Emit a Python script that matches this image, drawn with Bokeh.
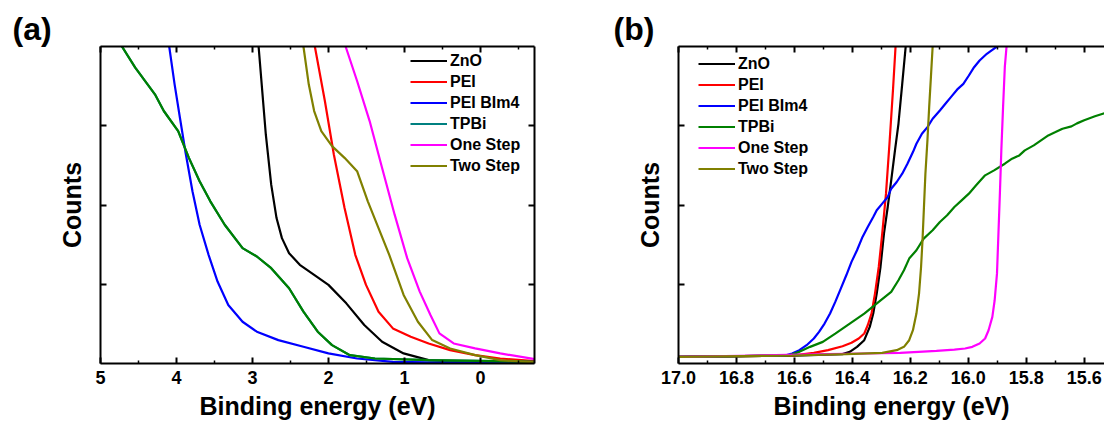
from bokeh.plotting import figure
from bokeh.layouts import row
from bokeh.models import (Range1d, FixedTicker, LinearAxis, Legend,
                          LegendItem, PrintfTickFormatter)
from bokeh.embed import file_html
from bokeh.resources import INLINE

FONT = "Liberation Sans"

SERIES = ["ZnO", "PEI", "PEI BIm4", "TPBi", "One Step", "Two Step"]
COLORS = ["#000000", "#FF0000", "#0000FF", "#008000", "#FF00FF", "#808000"]
LEGEND_COLORS_A = ["#000000", "#FF0000", "#0000FF", "#008080", "#FF00FF", "#808000"]

# ---------------- panel (a) : valence region ----------------
A_ZNO_X = [2.937, 2.92, 2.825, 2.754, 2.684, 2.613, 2.519, 2.378, 2.189, 2.001, 1.766, 1.530, 1.295, 1.012, 0.683, 0.212, -0.716]
A_ZNO_Y = [4.2, 4.0, 2.89, 2.257, 1.835, 1.582, 1.392, 1.245, 1.118, 0.992, 0.759, 0.485, 0.274, 0.127, 0.042, 0.013, 0.005]

A_PEI_X = [2.19, 2.180, 2.048, 1.930, 1.789, 1.648, 1.507, 1.342, 1.153, 0.918, 0.683, 0.400, 0.071, -0.259, -0.716]
A_PEI_Y = [4.15, 4.0, 3.312, 2.637, 1.962, 1.371, 0.992, 0.654, 0.443, 0.338, 0.253, 0.169, 0.105, 0.063, 0.03]

A_BIM_X = [4.11, 4.096, 4.025, 3.955, 3.884, 3.790, 3.696, 3.578, 3.460, 3.319, 3.131, 2.943, 2.660, 2.330, 2.001, 1.624, 1.153, 0.212, -0.716]
A_BIM_Y = [4.1, 4.0, 3.523, 3.101, 2.679, 2.173, 1.751, 1.371, 1.034, 0.738, 0.527, 0.401, 0.295, 0.211, 0.127, 0.063, 0.021, 0.008, 0.008]

A_TPBI_X = [4.78, 4.718, 4.543, 4.284, 4.167, 3.978, 3.837, 3.696, 3.555, 3.366, 3.131, 2.943, 2.754, 2.519, 2.330, 2.142, 1.954, 1.719, 1.389, 0.683, -0.716]
A_TPBI_Y = [4.1, 4.0, 3.734, 3.397, 3.186, 2.932, 2.595, 2.300, 2.046, 1.751, 1.456, 1.350, 1.203, 0.949, 0.654, 0.401, 0.232, 0.105, 0.063, 0.042, 0.021]

A_ONE_X = [1.80, 1.775, 1.624, 1.459, 1.295, 1.130, 0.965, 0.800, 0.659, 0.541, 0.353, 0.071, -0.259, -0.716]
A_ONE_Y = [4.15, 4.0, 3.565, 3.059, 2.468, 1.878, 1.329, 0.907, 0.612, 0.380, 0.253, 0.190, 0.127, 0.055]

A_TWO_X = [2.345, 2.330, 2.260, 2.189, 2.095, 1.954, 1.789, 1.624, 1.483, 1.342, 1.201, 1.012, 0.824, 0.636, 0.400, 0.071, -0.259, -0.716]
A_TWO_Y = [4.1, 4.0, 3.523, 3.186, 2.932, 2.743, 2.595, 2.426, 2.046, 1.709, 1.371, 0.865, 0.527, 0.295, 0.190, 0.105, 0.042, 0.013]

A_TICKS = [5, 4, 3, 2, 1, 0]
A_MINOR = [4.5, 3.5, 2.5, 1.5, 0.5, -0.5]

# ---------------- panel (b) : secondary-electron cutoff ----------------
B_ZNO_X = [17.0, 16.60, 16.434, 16.409, 16.384, 16.359, 16.340, 16.328, 16.316, 16.303, 16.291, 16.278, 16.266, 16.253, 16.241, 16.228, 16.216, 16.212]
B_ZNO_Y = [0.084, 0.100, 0.118, 0.147, 0.210, 0.294, 0.462, 0.630, 0.882, 1.218, 1.639, 1.975, 2.311, 2.689, 3.025, 3.529, 4.0, 4.15]

B_PEI_X = [17.0, 16.608, 16.533, 16.484, 16.434, 16.403, 16.378, 16.359, 16.347, 16.334, 16.322, 16.309, 16.297, 16.284, 16.272, 16.260, 16.251, 16.248]
B_PEI_Y = [0.084, 0.101, 0.134, 0.168, 0.218, 0.261, 0.315, 0.378, 0.483, 0.630, 0.882, 1.218, 1.639, 2.143, 2.773, 3.445, 4.0, 4.15]

B_BIM_X = [17.0, 16.633, 16.608, 16.583, 16.558, 16.533, 16.515, 16.496, 16.477, 16.459, 16.440, 16.421, 16.403, 16.384, 16.365, 16.347, 16.328, 16.316, 16.297, 16.278, 16.266, 16.247, 16.228, 16.210, 16.191, 16.179, 16.160, 16.141, 16.123, 16.098, 16.079, 16.060, 16.036, 16.017, 15.998, 15.980, 15.961, 15.936, 15.917, 15.901, 15.890]
B_BIM_Y = [0.084, 0.101, 0.126, 0.168, 0.231, 0.315, 0.399, 0.504, 0.630, 0.777, 0.945, 1.113, 1.282, 1.429, 1.597, 1.723, 1.849, 1.933, 2.017, 2.101, 2.206, 2.290, 2.395, 2.521, 2.668, 2.773, 2.899, 2.983, 3.088, 3.193, 3.277, 3.361, 3.466, 3.529, 3.634, 3.739, 3.824, 3.908, 3.958, 4.0, 4.06]

B_TPBI_X = [17.0, 16.620, 16.583, 16.546, 16.502, 16.459, 16.409, 16.359, 16.309, 16.266, 16.241, 16.222, 16.204, 16.179, 16.154, 16.123, 16.098, 16.073, 16.048, 16.023, 15.998, 15.973, 15.942, 15.911, 15.874, 15.849, 15.824, 15.805, 15.774, 15.749, 15.724, 15.699, 15.675, 15.644, 15.625, 15.600, 15.563, 15.528, 15.515]
B_TPBI_Y = [0.084, 0.101, 0.147, 0.210, 0.273, 0.378, 0.504, 0.630, 0.777, 0.903, 1.050, 1.176, 1.324, 1.429, 1.576, 1.681, 1.786, 1.870, 1.975, 2.059, 2.143, 2.248, 2.374, 2.437, 2.521, 2.584, 2.626, 2.689, 2.752, 2.815, 2.878, 2.920, 2.962, 2.992, 3.030, 3.070, 3.120, 3.160, 3.170]

B_ONE_X = [17.0, 16.732, 16.484, 16.359, 16.235, 16.172, 16.110, 16.048, 16.011, 15.986, 15.961, 15.942, 15.930, 15.917, 15.909, 15.901, 15.896, 15.891, 15.886, 15.880, 15.874, 15.868, 15.865]
B_ONE_Y = [0.084, 0.101, 0.118, 0.126, 0.134, 0.147, 0.160, 0.176, 0.189, 0.210, 0.252, 0.315, 0.420, 0.588, 0.798, 1.134, 1.639, 2.143, 2.689, 3.235, 3.739, 4.0, 4.15]

B_TWO_X = [17.0, 16.608, 16.421, 16.297, 16.247, 16.222, 16.204, 16.191, 16.179, 16.170, 16.163, 16.158, 16.153, 16.148, 16.141, 16.135, 16.129, 16.123, 16.121]
B_TWO_Y = [0.084, 0.101, 0.118, 0.134, 0.168, 0.210, 0.294, 0.420, 0.630, 0.882, 1.218, 1.555, 1.975, 2.395, 2.815, 3.235, 3.613, 4.0, 4.15]

B_TICKS = [17.0, 16.8, 16.6, 16.4, 16.2, 16.0, 15.8, 15.6]
B_MINOR = [16.9, 16.7, 16.5, 16.3, 16.1, 15.9, 15.7]

Y_TICKS = [1, 2, 3]


def style_axis(ax, ticks, minor, fmt, labels=True, label_size="18px"):
    ax.ticker = FixedTicker(ticks=ticks, minor_ticks=minor)
    ax.formatter = PrintfTickFormatter(format=fmt)
    ax.axis_line_color = "black"
    ax.axis_line_width = 2
    ax.major_tick_line_color = "black"
    ax.major_tick_line_width = 2
    ax.major_tick_in = 6
    ax.major_tick_out = 0
    ax.minor_tick_line_color = "black"
    ax.minor_tick_line_width = 1.5
    ax.minor_tick_in = 3
    ax.minor_tick_out = 0
    ax.major_label_text_font = FONT
    ax.major_label_text_font_style = "bold"
    ax.major_label_text_color = "black"
    if labels:
        ax.major_label_text_font_size = label_size
        ax.major_label_standoff = 7
    else:
        ax.major_label_text_font_size = "0px"
        ax.major_label_standoff = 0
        ax.major_label_overrides = {t: "" for t in ticks}
    ax.axis_label_text_font = FONT
    ax.axis_label_text_font_style = "bold"
    ax.axis_label_text_font_size = "25px"
    ax.axis_label_text_color = "black"


def make_panel(tag, tag_offset, xs, ys, legend_colors, x_range, ticks, minor,
               fmt, width, border_left, border_right, right_axis, legend_loc):
    p = figure(width=width, height=425, x_range=x_range, y_range=Range1d(0, 4),
               output_backend="svg", toolbar_location=None, title=tag,
               min_border_left=border_left, min_border_right=border_right,
               min_border_top=46, min_border_bottom=62)
    p.outline_line_color = None
    p.xgrid.visible = False
    p.ygrid.visible = False
    p.background_fill_color = "white"
    p.border_fill_color = "white"

    p.title.align = "left"
    p.title.offset = tag_offset
    p.title.standoff = 0
    p.title.text_font = FONT
    p.title.text_font_style = "bold"
    p.title.text_font_size = "32px"
    p.title.text_color = "black"

    style_axis(p.xaxis[0], ticks, minor, fmt, True)
    p.xaxis[0].axis_label = "Binding energy (eV)"
    p.xaxis[0].axis_label_standoff = 5
    style_axis(p.yaxis[0], Y_TICKS, [], "%d", False)
    p.yaxis[0].axis_label = "Counts"
    p.yaxis[0].axis_label_standoff = 15

    top = LinearAxis()
    style_axis(top, ticks, minor, fmt, False)
    p.add_layout(top, "above")
    if right_axis:
        rax = LinearAxis()
        style_axis(rax, Y_TICKS, [], "%d", False)
        p.add_layout(rax, "right")

    items = []
    for name, x, y, c, lc in zip(SERIES, xs, ys, COLORS, legend_colors):
        if lc != c:
            # legend swatch colour differs from the drawn curve: proxy underneath
            proxy = p.line(x, y, line_color=lc, line_width=2.2)
            p.line(x, y, line_color=c, line_width=2.2)
            items.append(LegendItem(label=name, renderers=[proxy]))
        else:
            r = p.line(x, y, line_color=c, line_width=2.2)
            items.append(LegendItem(label=name, renderers=[r]))

    leg = Legend(items=items, location=legend_loc,
                 glyph_width=37, glyph_height=21, label_height=21,
                 label_standoff=3, spacing=0, padding=0, margin=0,
                 border_line_color=None, background_fill_alpha=0,
                 label_text_font=FONT, label_text_font_style="bold",
                 label_text_font_size="16px", label_text_color="black")
    p.add_layout(leg)
    return p


pa = make_panel("(a)", -88,
                [A_ZNO_X, A_PEI_X, A_BIM_X, A_TPBI_X, A_ONE_X, A_TWO_X],
                [A_ZNO_Y, A_PEI_Y, A_BIM_Y, A_TPBI_Y, A_ONE_Y, A_TWO_Y],
                LEGEND_COLORS_A, Range1d(5, -0.71), A_TICKS, A_MINOR, "%d",
                width=544, border_left=100, border_right=10, right_axis=True,
                legend_loc=(310, 187))

pb = make_panel("(b)", -65,
                [B_ZNO_X, B_PEI_X, B_BIM_X, B_TPBI_X, B_ONE_X, B_TWO_X],
                [B_ZNO_Y, B_PEI_Y, B_BIM_Y, B_TPBI_Y, B_ONE_Y, B_TWO_Y],
                COLORS, Range1d(17.0, 15.530), B_TICKS, B_MINOR, "%.1f",
                width=560, border_left=134, border_right=0, right_axis=False,
                legend_loc=(20, 184))

layout = row(pa, pb)
open("out.html", "w").write(file_html(layout, INLINE))
